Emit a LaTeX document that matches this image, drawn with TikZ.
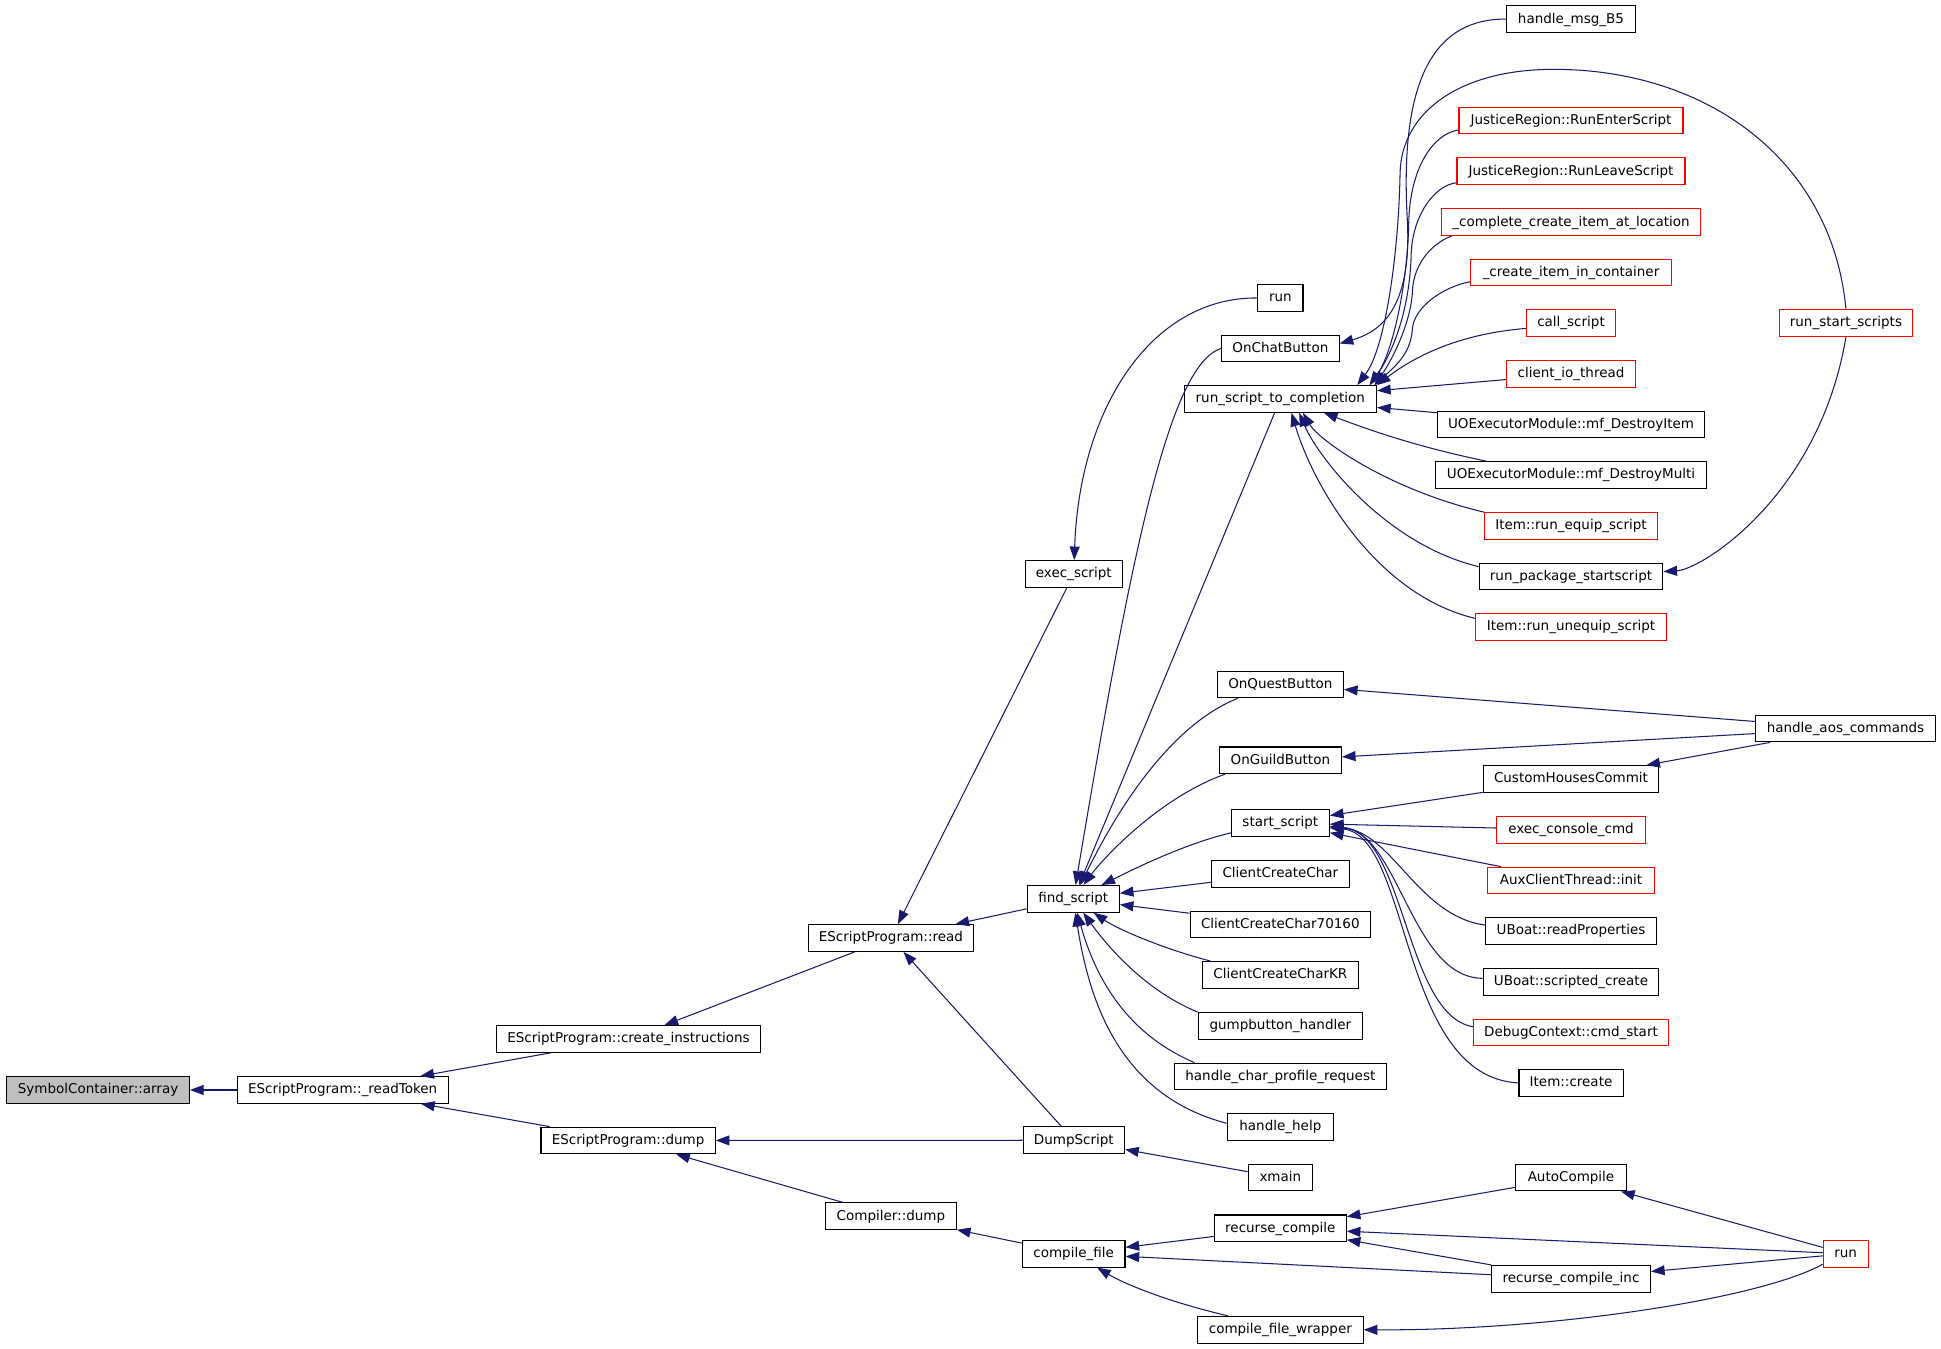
\documentclass[tikz,border=0pt]{standalone}
\usepackage{fontspec}
\newfontfamily\dvs{DejaVu Sans}
\usetikzlibrary{arrows.meta}
\definecolor{eb}{HTML}{191970}
\definecolor{gb}{HTML}{BFBFBF}
\begin{document}
\begin{tikzpicture}[x=0.5pt,y=-0.5pt,
  bx/.style={draw=black, line width=0.45pt, rectangle, inner sep=0pt, minimum height=10.75pt, text height=4.5pt, text depth=1.3pt, font=\dvs\fontsize{5.45}{6}\selectfont, fill=white},
  rb/.style={bx, draw=red},
  cl/.style={draw=eb, line width=0.42pt, {Triangle[length=5.5pt,width=4pt]}-}]
\useasboundingbox[fill=white] (0,0) rectangle (1568,1089);
% column 0-1
\node[bx, fill=gb, minimum width=73.8pt] (arr) at (79.2,880.5) {SymbolContainer::array};
\node[bx, minimum width=85.2pt] (rt) at (276.8,880.5) {EScriptProgram::\_readToken};
\node[bx, minimum width=106.8pt] (ci) at (507.7,839.3) {EScriptProgram::create\_instructions};
\node[bx, minimum width=70.35pt] (ed) at (507.4,921.3) {EScriptProgram::dump};
\node[bx, minimum width=66.55pt] (rd) at (719.7,757.7) {EScriptProgram::read};
\node[bx, minimum width=52.85pt] (cd) at (719.7,982.5) {Compiler::dump};
\node[bx, minimum width=39.2pt] (es) at (867.4,463.7) {exec\_script};
\node[bx, minimum width=37.15pt] (fs) at (867,726.1) {find\_script};
\node[bx, minimum width=40.9pt] (ds) at (867.5,921.1) {DumpScript};
\node[bx, minimum width=41.5pt] (cf) at (867.3,1012.8) {compile\_file};
% column 2
\node[bx, minimum width=18.3pt] (runt) at (1034.3,240.7) {run};
\node[bx, minimum width=47.5pt] (ocb) at (1034.3,281.5) {OnChatButton};
\node[bx, minimum width=77.65pt] (rstc) at (1034.3,322.3) {run\_script\_to\_completion};
\node[bx, minimum width=50.95pt] (oqb) at (1034.3,552.9) {OnQuestButton};
\node[bx, minimum width=49.3pt] (ogb) at (1034.3,614.2) {OnGuildButton};
\node[bx, minimum width=39.55pt] (ss) at (1034.3,664.8) {start\_script};
\node[bx, minimum width=55.85pt] (ccc) at (1034.3,706) {ClientCreateChar};
\node[bx, minimum width=72.8pt] (ccc7) at (1034.3,746.8) {ClientCreateChar70160};
\node[bx, minimum width=63.1pt] (cckr) at (1034.3,787.5) {ClientCreateCharKR};
\node[bx, minimum width=66.3pt] (gbh) at (1034.3,828.8) {gumpbutton\_handler};
\node[bx, minimum width=85.5pt] (hcpr) at (1034.3,869.6) {handle\_char\_profile\_request};
\node[bx, minimum width=42.9pt] (hh) at (1034.3,910.4) {handle\_help};
\node[bx, minimum width=26pt] (xm) at (1034.3,951.3) {xmain};
\node[bx, minimum width=53.2pt] (rc) at (1034.3,992.2) {recurse\_compile};
\node[bx, minimum width=66.9pt] (cfw) at (1034.3,1074.2) {compile\_file\_wrapper};
% column 3
\node[bx, minimum width=52pt] (hmb) at (1269.1,15.4) {handle\_msg\_B5};
\node[rb, minimum width=90.45pt] (ren) at (1269.1,97.4) {JusticeRegion::RunEnterScript};
\node[rb, minimum width=92.1pt] (rls) at (1269.1,138.2) {JusticeRegion::RunLeaveScript};
\node[rb, minimum width=104.95pt] (ccial) at (1269.1,179.4) {\_complete\_create\_item\_at\_location};
\node[rb, minimum width=80.9pt] (cic) at (1269.1,220.1) {\_create\_item\_in\_container};
\node[rb, minimum width=35.85pt] (cs) at (1269.1,260.9) {call\_script};
\node[rb, minimum width=52pt] (cit) at (1269.1,302.1) {client\_io\_thread};
\node[bx, minimum width=108pt] (mdi) at (1269.1,342.9) {UOExecutorModule::mf\_DestroyItem};
\node[bx, minimum width=109.45pt] (mdm) at (1269.1,383.7) {UOExecutorModule::mf\_DestroyMulti};
\node[rb, minimum width=69.9pt] (req) at (1269.1,424.9) {Item::run\_equip\_script};
\node[bx, minimum width=74.2pt] (rps) at (1269.1,465.7) {run\_package\_startscript};
\node[rb, minimum width=77.15pt] (rus) at (1269.1,506.5) {Item::run\_unequip\_script};
\node[bx, minimum width=70.9pt] (chc) at (1269.1,629.3) {CustomHousesCommit};
\node[rb, minimum width=59.95pt] (ecc) at (1269.1,670.3) {exec\_console\_cmd};
\node[rb, minimum width=67.3pt] (aci) at (1269.1,711.3) {AuxClientThread::init};
\node[bx, minimum width=68.85pt] (urp) at (1269.1,751.9) {UBoat::readProperties};
\node[bx, minimum width=70.9pt] (usc) at (1269.1,793.3) {UBoat::scripted\_create};
\node[rb, minimum width=78.85pt] (dcs) at (1269.1,834) {DebugContext::cmd\_start};
\node[bx, minimum width=42.05pt] (ic) at (1269.1,874.8) {Item::create};
\node[bx, minimum width=44.85pt] (ac) at (1269.1,951.3) {AutoCompile};
\node[bx, minimum width=64.15pt] (rci) at (1269.1,1033) {recurse\_compile\_inc};
% column 4
\node[rb, minimum width=53.55pt] (rss) at (1491.2,260.9) {run\_start\_scripts};
\node[bx, minimum width=72.75pt] (hac) at (1490.8,588.5) {handle\_aos\_commands};
\node[rb, minimum width=18.1pt] (runb) at (1491,1012.8) {run};
% edges
\draw[cl] (arr) -- (rt);
\draw[cl] (rt) -- (ci);
\draw[cl] (rt) -- (ed);
\draw[cl] (ci) -- (rd);
\draw[cl] (ed) -- (ds);
\draw[cl] (ed) -- (cd);
\draw[cl] (rd) -- (es);
\draw[cl] (rd) -- (fs);
\draw[cl] (rd) -- (ds);
\draw[cl] (cd) -- (cf);
\draw[cl] (es) .. controls (872,330) and (930,240) .. (runt.west);
\draw[cl] (fs) .. controls (915,440) and (945,295) .. (ocb.west);
\draw[cl] (fs) -- (rstc);
\draw[cl] (fs) .. controls (890,680) and (935,590) .. ([xshift=8.5pt]oqb.south west);
\draw[cl] (fs) .. controls (890,695) and (935,645) .. ([xshift=2.5pt]ogb.south west);
\draw[cl] (fs) .. controls (910,705) and (955,682) .. ([yshift=-4pt]ss.west);
\draw[cl] (fs) -- (ccc);
\draw[cl] (fs) -- (ccc7);
\draw[cl] (fs) .. controls (905,752) and (945,768) .. ([xshift=3.5pt]cckr.north west);
\draw[cl] (fs) .. controls (895,765) and (925,800) .. (gbh.north west);
\draw[cl] (fs) .. controls (885,790) and (910,835) .. ([xshift=8.3pt]hcpr.north west);
\draw[cl] (fs) .. controls (880,810) and (905,885) .. ([yshift=1.5pt]hh.west);
\draw[cl] (ds) -- (xm);
\draw[cl] (cf) -- (rc);
\draw[cl] (cf) -- (rci);
\draw[cl] (cf) .. controls (910,1038) and (945,1052) .. ([xshift=12.6pt]cfw.north west);
\draw[cl] ([yshift=2pt]ocb.east) .. controls (1115,268) and (1140,250) .. (1137,180) .. controls (1131,80) and (1150,15) .. (hmb.west);
\draw[cl] ([xshift=-8pt]rstc.north east) .. controls (1120,280) and (1130,200) .. (1131,140) .. controls (1132,90) and (1180,56) .. (1255,56) .. controls (1380,56) and (1480,130) .. (rss.north);
\draw[cl] ([xshift=-3pt]rstc.north east) .. controls (1125,285) and (1137,230) .. (1138,180) .. controls (1139,135) and (1158,108) .. ([yshift=-3.8pt]ren.west);
\draw[cl] ([xshift=-3pt]rstc.north east) .. controls (1125,285) and (1139,250) .. (1140,205) .. controls (1141,175) and (1158,150) .. ([yshift=-4.7pt]rls.west);
\draw[cl] ([xshift=-1pt]rstc.north east) .. controls (1125,290) and (1140,260) .. (1141,235) .. controls (1142,212) and (1158,196) .. ([xshift=4.5pt]ccial.south west);
\draw[cl] ([xshift=-1pt]rstc.north east) .. controls (1128,295) and (1140,285) .. (1141,265) .. controls (1143,248) and (1165,232) .. ([yshift=-3.7pt]cic.west);
\draw[cl] (rstc.north east) .. controls (1140,290) and (1175,270) .. ([yshift=-2.2pt]cs.west);
\draw[cl] (rstc) -- (cit);
\draw[cl] (rstc) -- (mdi);
\draw[cl] ([xshift=17.6pt]rstc.south) .. controls (1100,345) and (1140,360) .. ([xshift=20.7pt]mdm.north west);
\draw[cl] ([xshift=9.15pt]rstc.south) .. controls (1065,355) and (1120,395) .. (req.north west);
\draw[cl] ([xshift=7.6pt]rstc.south) .. controls (1065,370) and (1120,440) .. ([yshift=4pt]rps.west);
\draw[cl] ([xshift=4.5pt]rstc.south) .. controls (1060,390) and (1110,480) .. ([yshift=3.5pt]rus.west);
\draw[cl] ([yshift=2pt]rps.east) .. controls (1375,460) and (1470,400) .. (rss.south);
\draw[cl] (oqb) -- (hac);
\draw[cl] (ogb) -- (hac);
\draw[cl] (chc) -- (hac);
\draw[cl] (ss) -- (chc);
\draw[cl] (ss) -- (ecc);
\draw[cl] (ss) -- (aci);
\draw[cl] (ss) .. controls (1125,672) and (1145,740) .. ([yshift=2.3pt]urp.west);
\draw[cl] (ss) .. controls (1130,672) and (1140,790) .. ([yshift=1.5pt]usc.west);
\draw[cl] (ss) .. controls (1135,672) and (1135,820) .. ([yshift=2.3pt]dcs.west);
\draw[cl] (ss) .. controls (1140,675) and (1130,870) .. (ic.west);
\draw[cl] (rc) -- (ac);
\draw[cl] (rc) -- (runb);
\draw[cl] (rc) -- (rci);
\draw[cl] (ac) -- (runb);
\draw[cl] (rci) -- (runb);
\draw[cl] (cfw.east) .. controls (1250,1075) and (1420,1050) .. ([yshift=1.35pt]runb.south west);
\end{tikzpicture}
\end{document}
